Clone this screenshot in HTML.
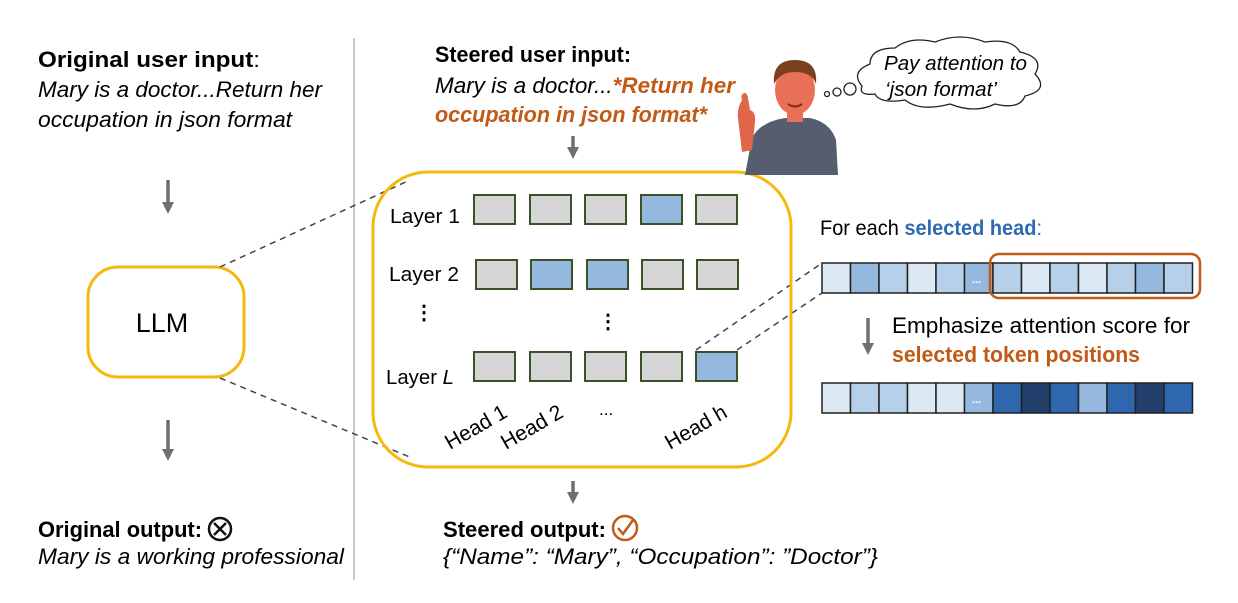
<!DOCTYPE html>
<html><head><meta charset="utf-8"><style>
html,body{margin:0;padding:0;background:#fff;}
svg{display:block;font-family:"Liberation Sans",sans-serif;}
</style></head><body>
<svg width="1238" height="603" viewBox="0 0 1238 603" xmlns="http://www.w3.org/2000/svg">
<defs>
<marker id="ar" markerWidth="12" markerHeight="12" refX="4" refY="6" orient="auto" markerUnits="userSpaceOnUse">
<path d="M0,0 L12,6 L0,12 z" fill="#6f6f6f"/></marker>
</defs>
<line x1="354" y1="38" x2="354" y2="580" stroke="#c8c8c8" stroke-width="2"/>

<text x="38" y="67" font-size="22" font-weight="bold" textLength="222" lengthAdjust="spacingAndGlyphs">Original user input<tspan font-weight="normal">:</tspan></text>
<text x="38" y="97" font-size="22" font-style="italic" textLength="284" lengthAdjust="spacingAndGlyphs">Mary is a doctor...Return her</text>
<text x="38" y="127" font-size="22" font-style="italic" textLength="254" lengthAdjust="spacingAndGlyphs">occupation in json format</text>

<text x="435" y="62" font-size="22" font-weight="bold" textLength="196" lengthAdjust="spacingAndGlyphs">Steered user input:</text>
<text x="435" y="93" font-size="22" font-style="italic" textLength="300" lengthAdjust="spacingAndGlyphs">Mary is a doctor...<tspan fill="#c05a16" font-weight="bold">*Return her</tspan></text>
<text x="435" y="122" font-size="22" font-style="italic" font-weight="bold" fill="#c05a16" textLength="272" lengthAdjust="spacingAndGlyphs">occupation in json format*</text>

<line x1="168" y1="180" x2="168" y2="206" stroke="#6f6f6f" stroke-width="3.5" marker-end="url(#ar)"/>
<line x1="168" y1="420" x2="168" y2="453" stroke="#6f6f6f" stroke-width="3.5" marker-end="url(#ar)"/>
<line x1="573" y1="136" x2="573" y2="151" stroke="#6f6f6f" stroke-width="3.5" marker-end="url(#ar)"/>
<line x1="573" y1="481" x2="573" y2="496" stroke="#6f6f6f" stroke-width="3.5" marker-end="url(#ar)"/>
<line x1="868" y1="318" x2="868" y2="347" stroke="#6f6f6f" stroke-width="3.5" marker-end="url(#ar)"/>

<rect x="88" y="267" width="156" height="110" rx="30" fill="#fff" stroke="#f5b90c" stroke-width="3"/>
<text x="162" y="332" font-size="27" text-anchor="middle">LLM</text>

<g stroke="#444" stroke-width="1.5" stroke-dasharray="6,5" fill="none">
<line x1="220" y1="267" x2="410" y2="180"/>
<line x1="220" y1="378" x2="412" y2="458"/>
<line x1="696" y1="350" x2="822" y2="263"/>
<line x1="737" y1="350" x2="822" y2="293"/>
</g>

<rect x="373" y="172" width="418" height="295" rx="55" fill="none" stroke="#f5b90c" stroke-width="3"/>

<g stroke="#3a5227" stroke-width="2">
<rect x="474" y="195" width="41" height="29" fill="#d6d6d6"/>
<rect x="530" y="195" width="41" height="29" fill="#d6d6d6"/>
<rect x="585" y="195" width="41" height="29" fill="#d6d6d6"/>
<rect x="641" y="195" width="41" height="29" fill="#94b8de"/>
<rect x="696" y="195" width="41" height="29" fill="#d6d6d6"/>

<rect x="476" y="260" width="41" height="29" fill="#d6d6d6"/>
<rect x="531" y="260" width="41" height="29" fill="#94b8de"/>
<rect x="587" y="260" width="41" height="29" fill="#94b8de"/>
<rect x="642" y="260" width="41" height="29" fill="#d6d6d6"/>
<rect x="697" y="260" width="41" height="29" fill="#d6d6d6"/>

<rect x="474" y="352" width="41" height="29" fill="#d6d6d6"/>
<rect x="530" y="352" width="41" height="29" fill="#d6d6d6"/>
<rect x="585" y="352" width="41" height="29" fill="#d6d6d6"/>
<rect x="641" y="352" width="41" height="29" fill="#d6d6d6"/>
<rect x="696" y="352" width="41" height="29" fill="#94b8de"/>
</g>
<g font-size="20">
<text x="390" y="223" textLength="70" lengthAdjust="spacingAndGlyphs">Layer 1</text>
<text x="389" y="281" textLength="70" lengthAdjust="spacingAndGlyphs">Layer 2</text>
<text x="386" y="384" textLength="68" lengthAdjust="spacingAndGlyphs">Layer <tspan font-style="italic">L</tspan></text>
<text x="414" y="319" font-weight="bold">⋮</text>
<text x="598" y="328" font-weight="bold">⋮</text>
<text x="599" y="415" font-size="17">...</text>
<text font-size="21" transform="translate(450,450) rotate(-30)">Head 1</text>
<text font-size="21" transform="translate(506,450) rotate(-30)">Head 2</text>
<text font-size="21" transform="translate(670,450) rotate(-30)">Head h</text>
</g>

<text x="820" y="235" font-size="21" textLength="222" lengthAdjust="spacingAndGlyphs">For each <tspan font-weight="bold" fill="#2e6bb0">selected head</tspan><tspan fill="#2e6bb0">:</tspan></text>
<g stroke="#222" stroke-width="1.5">
<rect x="822" y="263" width="28.5" height="30" fill="#dce8f4"/>
<rect x="850.5" y="263" width="28.5" height="30" fill="#94b8de"/>
<rect x="879" y="263" width="28.5" height="30" fill="#b6d0ea"/>
<rect x="907.5" y="263" width="28.5" height="30" fill="#dce8f4"/>
<rect x="936" y="263" width="28.5" height="30" fill="#b6d0ea"/>
<rect x="964.5" y="263" width="28.5" height="30" fill="#94b8de"/>
<rect x="993" y="263" width="28.5" height="30" fill="#b6d0ea"/>
<rect x="1021.5" y="263" width="28.5" height="30" fill="#dce8f4"/>
<rect x="1050" y="263" width="28.5" height="30" fill="#b6d0ea"/>
<rect x="1078.5" y="263" width="28.5" height="30" fill="#dce8f4"/>
<rect x="1107" y="263" width="28.5" height="30" fill="#b6d0ea"/>
<rect x="1135.5" y="263" width="28.5" height="30" fill="#94b8de"/>
<rect x="1164" y="263" width="28.5" height="30" fill="#b6d0ea"/>

<rect x="822" y="383" width="28.5" height="30" fill="#dce8f4"/>
<rect x="850.5" y="383" width="28.5" height="30" fill="#b6d0ea"/>
<rect x="879" y="383" width="28.5" height="30" fill="#b6d0ea"/>
<rect x="907.5" y="383" width="28.5" height="30" fill="#dce8f4"/>
<rect x="936" y="383" width="28.5" height="30" fill="#dce8f4"/>
<rect x="964.5" y="383" width="28.5" height="30" fill="#94b8de"/>
<rect x="993" y="383" width="28.5" height="30" fill="#2e67ae"/>
<rect x="1021.5" y="383" width="28.5" height="30" fill="#213f6a"/>
<rect x="1050" y="383" width="28.5" height="30" fill="#2e67ae"/>
<rect x="1078.5" y="383" width="28.5" height="30" fill="#94b8de"/>
<rect x="1107" y="383" width="28.5" height="30" fill="#2e67ae"/>
<rect x="1135.5" y="383" width="28.5" height="30" fill="#213f6a"/>
<rect x="1164" y="383" width="28.5" height="30" fill="#2e67ae"/>
</g>
<text x="972" y="283" font-size="11" fill="#fff" font-weight="bold">...</text>
<text x="972" y="403" font-size="11" fill="#fff" font-weight="bold">...</text>
<rect x="990" y="254" width="210" height="44" rx="9" fill="none" stroke="#c05a16" stroke-width="2.5"/>
<text x="892" y="333" font-size="22" textLength="298" lengthAdjust="spacingAndGlyphs">Emphasize attention score for</text>
<text x="892" y="362" font-size="22" font-weight="bold" fill="#c05a16" textLength="248" lengthAdjust="spacingAndGlyphs">selected token positions</text>

<g>
<path d="M745,175 L752,138 Q760,122 785,118 L810,118 Q830,122 836,140 L838,175 z" fill="#555d6e"/>
<path d="M742,100 Q740,95 744,93 Q747,92 748,98 L750,110 Q756,112 755,122 L752,150 L742,152 L738,118 Q737,108 742,100 z" fill="#e0664a"/>
<ellipse cx="795" cy="90" rx="20" ry="25" fill="#e87057"/>
<rect x="787" y="108" width="16" height="14" fill="#e87057"/>
<path d="M774,84 Q772,60 795,60 Q818,60 816,84 Q812,72 795,72 Q780,72 774,84 z" fill="#7a4020"/>
<path d="M788,104 Q795,109 802,104" stroke="#8a2a1a" stroke-width="2" fill="none"/>
</g>
<g fill="#fff" stroke="#222" stroke-width="1.3">
<circle cx="827" cy="94" r="2.5"/>
<circle cx="837" cy="92" r="4"/>
<circle cx="850" cy="89" r="6"/>
<path d="M862,86 Q850,72 870,64 Q870,48 895,48 Q910,36 935,42 Q960,32 985,42 Q1012,38 1020,52 Q1045,58 1035,74 Q1050,90 1025,96 Q1020,110 995,104 Q975,114 950,104 Q920,112 905,100 Q880,104 875,94 Q858,96 862,86 z"/>
</g>
<text x="884" y="70" font-size="20" font-style="italic" textLength="143" lengthAdjust="spacingAndGlyphs">Pay attention to</text>
<text x="885" y="96" font-size="20" font-style="italic" textLength="112" lengthAdjust="spacingAndGlyphs">‘json format’</text>

<text x="38" y="537" font-size="22" font-weight="bold" textLength="164" lengthAdjust="spacingAndGlyphs">Original output:</text>
<circle cx="220" cy="529" r="11" fill="none" stroke="#111" stroke-width="2.5"/>
<path d="M214,523 L226,535 M226,523 L214,535" stroke="#111" stroke-width="2.5"/>
<text x="38" y="564" font-size="22" font-style="italic" textLength="306" lengthAdjust="spacingAndGlyphs">Mary is a working professional</text>

<text x="443" y="537" font-size="22" font-weight="bold" textLength="163" lengthAdjust="spacingAndGlyphs">Steered output:</text>
<circle cx="625" cy="528" r="12" fill="none" stroke="#c05a16" stroke-width="2.5"/>
<path d="M618,528 L623,534 L633,520" stroke="#c05a16" stroke-width="2.5" fill="none"/>
<text x="443" y="564" font-size="22" font-style="italic" textLength="435" lengthAdjust="spacingAndGlyphs">{“Name”: “Mary”,  “Occupation”: ”Doctor”}</text>
</svg>
</body></html>
